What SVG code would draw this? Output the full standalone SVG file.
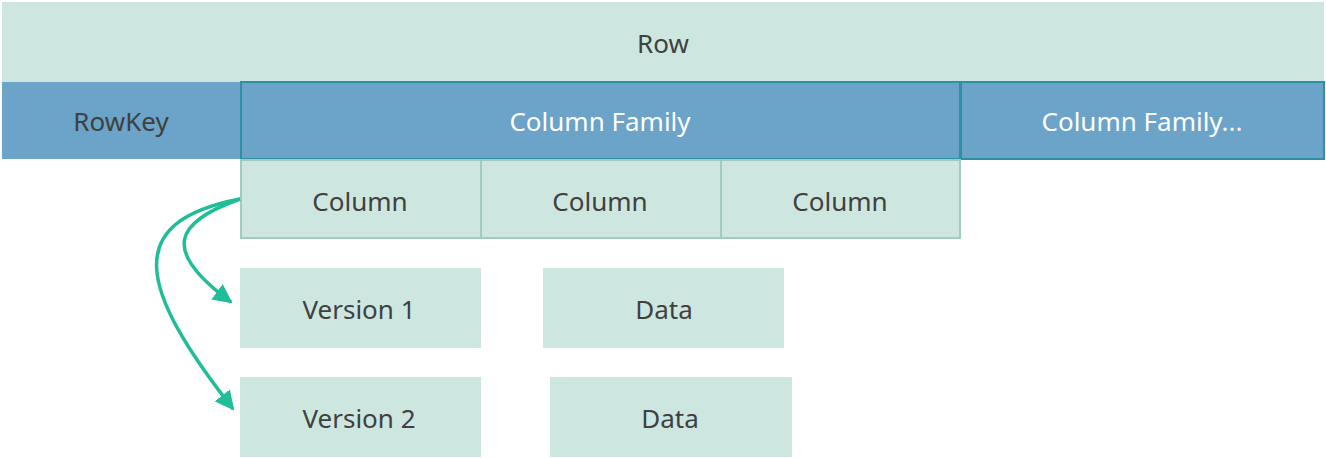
<svg xmlns="http://www.w3.org/2000/svg" width="1326" height="458" viewBox="0 0 1326 458">
<style>
text{font-family:"Noto Sans","Open Sans","DejaVu Sans",sans-serif;font-size:26px;text-anchor:middle;dominant-baseline:central;fill:#404040}
.mint{fill:#cde7e0}
.blue{fill:#6ba3c9}
.cf{fill:#6ba3c9;stroke:#2f8fa3;stroke-width:2}
.col{fill:#cde7e0;stroke:#a3c9c0;stroke-width:2}
.w{fill:#ffffff}
.conn{fill:none;stroke:#1fbd98;stroke-width:3.5}
</style>
<defs>
<marker id="ah" viewBox="0 0 10 10" refX="9" refY="5" markerWidth="5.5" markerHeight="5.5" orient="auto" markerUnits="strokeWidth">
<path d="M0,0 L10,5 L0,10 z" fill="#1fbd98"/>
</marker>
</defs>
<g id="row"><rect class="mint" x="2" y="2" width="1322" height="80"/><text x="663" y="43">Row</text></g>
<g id="rowkey"><rect class="blue" x="2" y="82" width="238" height="77"/><text x="121" y="121">RowKey</text></g>
<g id="cf1"><rect class="cf" x="241" y="82" width="719" height="77"/><text class="w" x="600" y="121">Column Family</text></g>
<g id="cf2"><rect class="cf" x="961" y="82" width="363" height="77"/><text class="w" x="1142" y="121">Column Family...</text></g>
<g id="col1"><rect class="col" x="241" y="160" width="240" height="78"/><text x="360" y="201">Column</text></g>
<g id="col2"><rect class="col" x="481" y="160" width="240" height="78"/><text x="600" y="201">Column</text></g>
<g id="col3"><rect class="col" x="721" y="160" width="239" height="78"/><text x="840" y="201">Column</text></g>
<g id="v1"><rect class="mint" x="240" y="268" width="241" height="80"/><text x="359" y="309">Version 1</text></g>
<g id="d1"><rect class="mint" x="543" y="268" width="241" height="80"/><text x="664" y="309">Data</text></g>
<g id="v2"><rect class="mint" x="240" y="377" width="241" height="80"/><text x="359" y="418">Version 2</text></g>
<g id="d2"><rect class="mint" x="550" y="377" width="242" height="80"/><text x="670" y="418">Data</text></g>
<g id="connectors">
<path class="conn" d="M240,199 C175,222 160,250 231,302" marker-end="url(#ah)"/>
<path class="conn" d="M240,199 C120,222 140,290 233,409" marker-end="url(#ah)"/>
</g>
</svg>
